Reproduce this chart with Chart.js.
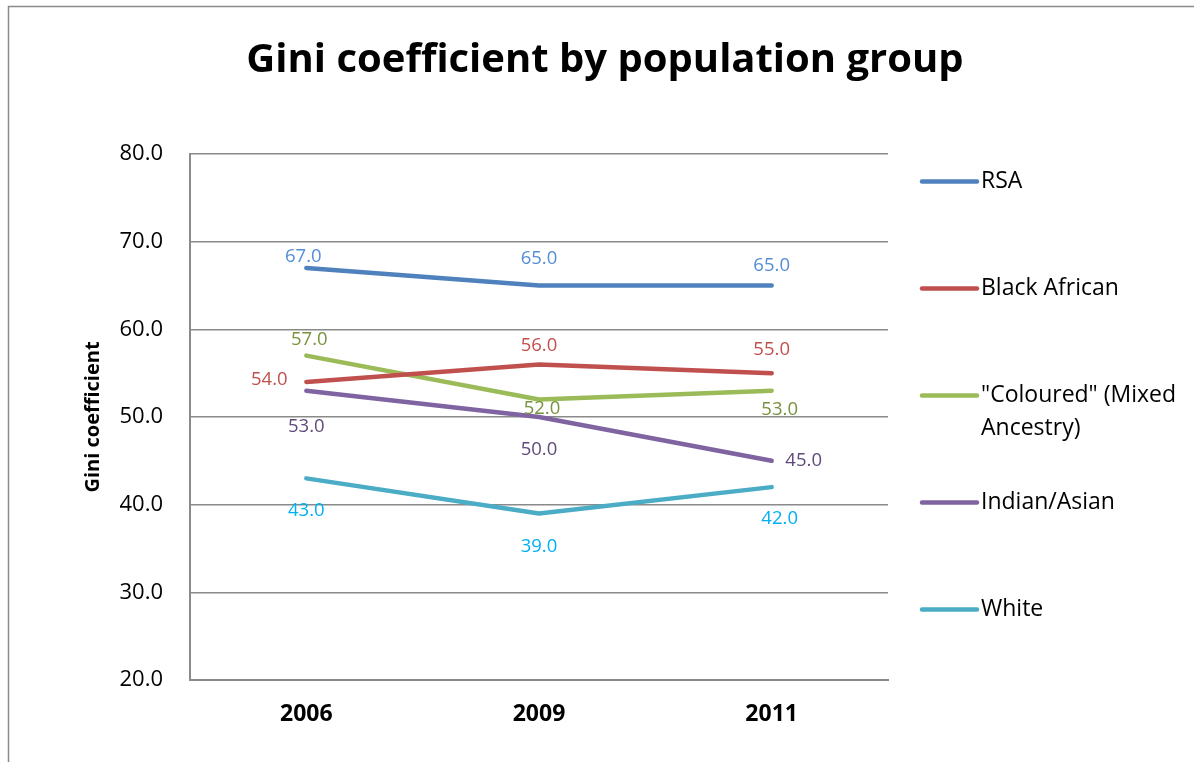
<!DOCTYPE html>
<html>
<head>
<meta charset="utf-8">
<script src="https://cdn.jsdelivr.net/npm/chart.js@4.4.1/dist/chart.umd.min.js"></script>
<style>
  html, body { margin: 0; padding: 0; background: #ffffff; }
  #wrap { position: relative; width: 1194px; height: 762px; }
</style>
</head>
<body>
<div id="wrap"><canvas id="c" width="1194" height="762"></canvas></div>
<script>
// ---- data ----
const categories = ['2006', '2009', '2011'];
const seriesNames = ['RSA', 'Black African', '"Coloured" (Mixed Ancestry)', 'Indian/Asian', 'White'];
const rsa = [67.0, 65.0, 65.0];
const blackAfrican = [54.0, 56.0, 55.0];
const coloured = [57.0, 52.0, 53.0];
const indianAsian = [53.0, 50.0, 45.0];
const white = [43.0, 39.0, 42.0];
const yMin = 20, yMax = 80, yStep = 10;
const chartTitle = 'Gini coefficient by population group';
const yAxisTitle = 'Gini coefficient';

// ---- styles ----
const lineColors = ['#4F81BD', '#C0504D', '#9BBB59', '#8064A2', '#4BACC6'];
const labelColors = ['#558ED5', '#C0504D', '#77933C', '#604A7B', '#00B0F0'];
// data label offsets (px) relative to each point
const labelOffsets = [
  [[-3, -11], [0, -27], [0, -20]],
  [[-37, -2], [0, -19], [0, -23]],
  [[3, -16], [3, 9], [8, 19]],
  [[0, 36], [0, 33], [32, 0]],
  [[0, 32], [0, 33], [8, 32]]
];
const FONT = '"Open Sans", "DejaVu Sans", sans-serif';

const seriesValues = [rsa, blackAfrican, coloured, indianAsian, white];

const datasets = seriesValues.map((vals, i) => ({
  label: seriesNames[i],
  data: vals,
  borderColor: lineColors[i],
  backgroundColor: lineColors[i],
  borderWidth: 4.5,
  borderCapStyle: 'round',
  borderJoinStyle: 'round',
  pointRadius: 0,
  pointHoverRadius: 0,
  tension: 0,
  fill: false
}));

const decorPlugin = {
  id: 'decor',
  beforeDraw(chart) {
    const ctx = chart.ctx;
    ctx.save();
    ctx.fillStyle = '#ffffff';
    ctx.fillRect(0, 0, chart.width, chart.height);
    // outer chart border (cropped on right/bottom)
    ctx.strokeStyle = '#8a8a8a';
    ctx.lineWidth = 1.5;
    ctx.beginPath();
    ctx.moveTo(8.5, chart.height + 2);
    ctx.lineTo(8.5, 6.5);
    ctx.lineTo(chart.width + 2, 6.5);
    ctx.stroke();
    ctx.restore();
  },
  afterDraw(chart) {
    const ctx = chart.ctx;
    ctx.save();
    // title
    ctx.fillStyle = '#000000';
    ctx.font = 'bold 40px ' + FONT;
    ctx.textAlign = 'center';
    ctx.textBaseline = 'alphabetic';
    ctx.fillText(chartTitle, 605, 72);
    // y axis title
    ctx.save();
    ctx.translate(93.5, 417);
    ctx.rotate(-Math.PI / 2);
    ctx.font = 'bold 20px ' + FONT;
    ctx.textAlign = 'center';
    ctx.textBaseline = 'middle';
    ctx.fillText(yAxisTitle, 0, 0);
    ctx.restore();
    // legend
    const lx1 = 922, lx2 = 977, tx = 981;
    ctx.font = '23px ' + FONT;
    ctx.textAlign = 'left';
    ctx.textBaseline = 'middle';
    const maxW = chart.width - tx - 2;
    chart.data.datasets.forEach((ds, i) => {
      const y = 181.5 + i * 107;
      ctx.strokeStyle = ds.borderColor;
      ctx.lineWidth = 4.5;
      ctx.lineCap = 'round';
      ctx.beginPath();
      ctx.moveTo(lx1, y);
      ctx.lineTo(lx2, y);
      ctx.stroke();
      // word wrap
      const words = ds.label.split(' ');
      const lines = [];
      let cur = '';
      words.forEach(w => {
        const test = cur ? cur + ' ' + w : w;
        if (ctx.measureText(test).width > maxW && cur) { lines.push(cur); cur = w; }
        else cur = test;
      });
      lines.push(cur);
      ctx.fillStyle = '#000000';
      lines.forEach((ln, k) => ctx.fillText(ln, tx, y + k * 33));
    });
    ctx.restore();
  },
  afterDatasetsDraw(chart) {
    const ctx = chart.ctx;
    ctx.save();
    ctx.font = '18.5px ' + FONT;
    ctx.textAlign = 'center';
    ctx.textBaseline = 'middle';
    chart.data.datasets.forEach((ds, i) => {
      const meta = chart.getDatasetMeta(i);
      meta.data.forEach((pt, j) => {
        const off = labelOffsets[i][j];
        ctx.fillStyle = labelColors[i];
        ctx.fillText(ds.data[j].toFixed(1), pt.x + off[0], pt.y + off[1]);
      });
    });
    ctx.restore();
  }
};

new Chart(document.getElementById('c'), {
  type: 'line',
  data: { labels: categories, datasets },
  options: {
    responsive: false,
    animation: false,
    events: [],
    layout: { padding: { top: 154, right: 306, bottom: 0, left: 0 } },
    plugins: {
      legend: { display: false },
      title: { display: false },
      tooltip: { enabled: false }
    },
    scales: {
      x: {
        offset: true,
        grid: { display: false, drawTicks: false },
        border: { display: true, color: '#8a8a8a', width: 2 },
        ticks: {
          color: '#000000',
          font: { family: FONT, size: 23, weight: 'bold' },
          padding: 21
        },
        afterFit(scale) { scale.height = 82; }
      },
      y: {
        min: yMin,
        max: yMax,
        grid: { color: '#8a8a8a', lineWidth: 1.5, drawTicks: false },
        border: { display: true, color: '#8a8a8a', width: 2 },
        ticks: {
          stepSize: yStep,
          color: '#000000',
          font: { family: FONT, size: 22 },
          padding: 27,
          callback: (v) => Number(v).toFixed(1)
        },
        afterFit(scale) { scale.width = 190; }
      }
    }
  },
  plugins: [decorPlugin]
});
</script>
</body>
</html>
